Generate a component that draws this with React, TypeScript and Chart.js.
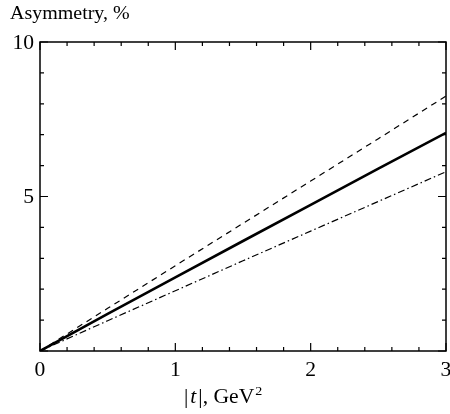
import React, { useEffect, useRef } from "react";
import { Chart, registerables } from "chart.js";
Chart.register(...registerables);

const tValues = [0, 0.5, 1, 1.5, 2, 2.5, 3];
const solidSeries = [0, 1.2, 2.38, 3.56, 4.73, 5.9, 7.06];
const dashedSeries = [0, 1.38, 2.76, 4.13, 5.5, 6.87, 8.25];
const dashDotSeries = [0, 0.98, 1.95, 2.92, 3.88, 4.84, 5.8];
const xMajorTicks = [0, 1, 2, 3];
const xTickLabels = ["0", "1", "2", "3"];
const yMajorTicks = [5, 10];
const yTickLabels = ["5", "10"];
const yTitle = "Asymmetry, %";

const FONT = "'Liberation Serif', 'Times New Roman', serif";
const SX = 1.08;

function txt(ctx: CanvasRenderingContext2D, s: string, x: number, y: number, align: "left" | "center" | "right", font: string) {
  ctx.save();
  ctx.font = font;
  ctx.textBaseline = "alphabetic";
  const w = ctx.measureText(s).width * SX;
  let x0 = x;
  if (align === "center") x0 = x - w / 2;
  if (align === "right") x0 = x - w;
  ctx.translate(x0, y);
  ctx.scale(SX, 1);
  ctx.textAlign = "left";
  ctx.fillText(s, 0, 0);
  ctx.restore();
  return w;
}

const framePlugin = {
  id: "frame",
  afterDraw(chart: any) {
    const ctx: CanvasRenderingContext2D = chart.ctx;
    const { left, right, top, bottom } = chart.chartArea;
    const xs = chart.scales.x;
    const ys = chart.scales.y;
    ctx.save();
    ctx.strokeStyle = "#000";
    ctx.fillStyle = "#000";
    ctx.lineWidth = 1.5;
    ctx.setLineDash([]);
    ctx.strokeRect(left, top, right - left, bottom - top);
    ctx.lineWidth = 1.2;
    for (let i = 0; i <= 15; i++) {
      const v = i * 0.2;
      const px = xs.getPixelForValue(v);
      const major = i % 5 === 0;
      const len = major ? 8 : 4;
      ctx.beginPath();
      ctx.moveTo(px, bottom);
      ctx.lineTo(px, bottom - len);
      ctx.moveTo(px, top);
      ctx.lineTo(px, top + len);
      ctx.stroke();
    }
    for (let v = 0; v <= 10; v++) {
      const py = ys.getPixelForValue(v);
      const major = v % 5 === 0;
      const len = major ? 8 : 4;
      ctx.beginPath();
      ctx.moveTo(left, py);
      ctx.lineTo(left + len, py);
      ctx.moveTo(right, py);
      ctx.lineTo(right - len, py);
      ctx.stroke();
    }
    const f = `20px ${FONT}`;
    xMajorTicks.forEach((v, i) => {
      txt(ctx, xTickLabels[i], xs.getPixelForValue(v), 376, "center", f);
    });
    yMajorTicks.forEach((v, i) => {
      txt(ctx, yTickLabels[i], 34, ys.getPixelForValue(v) + 6.5, "right", f);
    });
    txt(ctx, yTitle, 10, 19, "left", `18.5px ${FONT}`);
    let x = 184;
    const by = 403;
    x += txt(ctx, "|", x, by, "left", f) + 2;
    x += txt(ctx, "t", x, by, "left", `italic 20px ${FONT}`) + 2;
    x += txt(ctx, "|, GeV", x, by, "left", f);
    txt(ctx, "2", x + 1, by - 8, "left", `13px ${FONT}`);
    ctx.restore();
  },
};

export default function App() {
  const ref = useRef<HTMLCanvasElement | null>(null);
  useEffect(() => {
    if (!ref.current) return;
    const mk = (vals: number[]) => tValues.map((t, i) => ({ x: t, y: vals[i] }));
    const chart = new Chart(ref.current, {
      type: "line",
      data: {
        datasets: [
          { data: mk(dashedSeries), borderColor: "#000", borderWidth: 1.2, borderDash: [6, 5], pointRadius: 0, fill: false, tension: 0 },
          { data: mk(dashDotSeries), borderColor: "#000", borderWidth: 1.2, borderDash: [7, 3, 1.5, 3], pointRadius: 0, fill: false, tension: 0 },
          { data: mk(solidSeries), borderColor: "#000", borderWidth: 2.6, pointRadius: 0, fill: false, tension: 0 },
        ],
      },
      options: {
        animation: false,
        responsive: false,
        devicePixelRatio: 1,
        layout: { padding: { left: 40, top: 42, right: 4, bottom: 63 } },
        plugins: { legend: { display: false }, tooltip: { enabled: false } },
        scales: {
          x: { type: "linear", min: 0, max: 3, display: false },
          y: { type: "linear", min: 0, max: 10, display: false },
        },
      },
      plugins: [framePlugin],
    });
    return () => chart.destroy();
  }, []);
  return (
    <div style={{ position: "fixed", left: 0, top: 0, width: 450, height: 414, background: "#fff" }}>
      <canvas ref={ref} width={450} height={414} style={{ width: 450, height: 414, display: "block" }} />
    </div>
  );
}
